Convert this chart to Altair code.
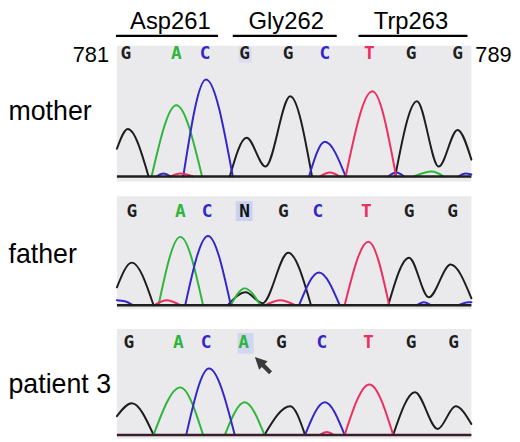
import altair as alt
import pandas as pd

# ---------------- data ----------------
X_MAX = 358  # scan positions shown

# codon header
CODONS = ["Asp261", "Gly262", "Trp263"]
CODON_LABEL_X = [54, 171, 297]
CODON_RULE_START = [-1, 117, 244]
CODON_RULE_END = [102, 222, 354]
NUM_START, NUM_START_X = "781", -8
NUM_END, NUM_END_X = "789", 362

# trace segments: (scan position, signal) per base
MOTHER_G = [[(0, 28), (11, 48), (32, 0)],
            [(114, 0), (131, 39), (150, 10), (175, 81), (197, 0)],
            [(281, 0), (303, 76), (325, 10), (344, 47), (358, 17)]]
MOTHER_A = [[(35, 0), (60, 72), (86, 0)], [(300, 0), (318, 5), (330, 0)]]
MOTHER_C = [[(40, 0), (47, 3), (54, 0)], [(67, 0), (90, 98), (117, 0)],
            [(194, 0), (210, 35), (231, 0)], [(274, 0), (282, 4), (290, 0)],
            [(345, 0), (352, 3), (358, 2)]]
MOTHER_T = [[(54, 0), (64, 3), (77, 0)], [(205, 0), (215, 4), (225, 0)],
            [(231, 0), (258, 86), (282, 0)]]

FATHER_G = [[(0, 18), (15, 43), (37, 0)],
            [(112, 0), (130, 13), (147, 2), (173, 53), (196, 0)],
            [(274, 0), (295, 48), (315, 8), (337, 41), (358, 7)]]
FATHER_A = [[(42, 0), (64, 69), (87, 0)], [(115, 0), (129, 17), (145, 0)]]
FATHER_C = [[(0, 5), (8, 4), (16, 0)], [(69, 0), (92, 70), (115, 0)],
            [(184, 0), (204, 33), (225, 0)], [(303, 0), (310, 3), (317, 0)],
            [(345, 0), (355, 3), (358, 3)]]
FATHER_T = [[(38, 0), (50, 5), (64, 0)], [(150, 0), (165, 5), (180, 0)],
            [(230, 0), (254, 64), (275, 0)]]

PATIENT_G = [[(0, 19), (15, 32), (37, 0)],
             [(149, 0), (175, 29), (190, 0)],
             [(279, 0), (301, 43), (324, 6), (342, 29), (358, 11)]]
PATIENT_A = [[(37, 0), (64, 48), (87, 0)], [(109, 0), (129, 33), (149, 0)]]
PATIENT_C = [[(70, 0), (93, 67), (119, 0)], [(190, 0), (210, 33), (230, 0)]]
PATIENT_T = [[(205, 0), (212, 3), (219, 0)], [(230, 0), (255, 51), (279, 0)]]

# base calls
MOTHER_SEQ = list("GACGGCTGG")
MOTHER_POS = [9, 60, 89, 129, 173, 210, 255, 297, 344]
FATHER_SEQ = list("GACNGCTGG")
FATHER_POS = [15, 64, 91, 129, 168, 203, 252, 295, 339]
PATIENT_SEQ = list("GACAGCTGG")
PATIENT_POS = [12, 62, 90, 128, 166, 207, 254, 297, 340]

# highlighted calls (x0, x1, y0, y1)
MOTHER_HL = (123, 136, 115, 131)
FATHER_HL = (120, 137, 85, 105)
PATIENT_HL = (122, 138, 82, 103)

# signal window shown on each panel's grey background (bottom, top)
MOTHER_WIN = (-5, 132)
FATHER_WIN = (-4, 110)
PATIENT_WIN = (-4, 107)

ARROW_X = [148]
ARROW_Y = [70]

# ---------------- styling ----------------
COLORS = {"A": "#2eb53c", "C": "#3427c8", "G": "#1e1e1e", "T": "#ec2f5f", "N": "#111111"}
color_scale = alt.Scale(domain=list(COLORS.keys()), range=list(COLORS.values()))
BG = "#eaeaec"
LABEL_FONT = "Liberation Sans"
ARROW_PATH = "M-1,-1L0.485,-0.505L0.17,-0.19L1,0.65L0.65,1L-0.19,0.17L-0.505,0.485Z"
xs = alt.Scale(domain=[0, X_MAX], nice=False, zero=False)


def traces_df(traces):
    rows = []
    for base, segs in traces.items():
        for si, seg in enumerate(segs):
            for i, (x, y) in enumerate(seg):
                rows.append(dict(base=base, seg=f"{base}{si}", i=i, x=x, y=y))
    return pd.DataFrame(rows)


def panel(label, title_y, traces, seq, pos, letter_y, win, gap, hl, hl_opacity,
          baseline_color, extras_fn=None):
    # gap: white space (in signal units = px) below the grey background
    ydom = [win[0] - gap, win[1]]
    height = ydom[1] - ydom[0]
    ys = alt.Scale(domain=ydom, nice=False, zero=False)
    yaxis = alt.Axis(title=label, titleAngle=0, titleAlign="left",
                     titleBaseline="alphabetic", titleX=-110, titleY=title_y,
                     titleFont=LABEL_FONT, titleFontSize=27,
                     titleFontWeight="normal", titleColor="black",
                     labels=False, ticks=False, domain=False, grid=False)

    def X(f="x"):
        return alt.X(f"{f}:Q", scale=xs, axis=None)

    Y = alt.Y("y:Q", scale=ys, axis=yaxis)

    bg = alt.Chart(pd.DataFrame({"x": [0], "x2": [X_MAX], "y": [win[0]], "y2": [win[1]]})).mark_rect(
        color=BG).encode(x=X(), x2="x2:Q", y=Y, y2="y2:Q")
    hl_layer = alt.Chart(pd.DataFrame({"x": [hl[0]], "x2": [hl[1]],
                                       "y": [hl[2]], "y2": [hl[3]]})).mark_rect(
        color="#c9d2f0", opacity=hl_opacity).encode(x=X(), x2="x2:Q", y=Y, y2="y2:Q")
    line = alt.Chart(traces_df(traces)).mark_line(
        interpolate="monotone", strokeWidth=2, strokeJoin="round", strokeCap="round"
    ).encode(x=X(), y=Y,
             color=alt.Color("base:N", scale=color_scale, legend=None),
             detail="seg:N", order="i:Q")
    base_rule = alt.Chart(pd.DataFrame({"x": [0], "x2": [X_MAX], "y": [0]})).mark_rule(
        strokeWidth=2.5, color=baseline_color).encode(x=X(), x2="x2:Q", y=Y)
    letters = alt.Chart(pd.DataFrame({"x": pos, "y": [letter_y] * len(seq),
                                      "base": seq})).mark_text(
        font="DejaVu Sans Mono", fontWeight="bold", fontSize=18, baseline="middle"
    ).encode(x=X(), y=Y, text="base:N",
             color=alt.Color("base:N", scale=color_scale, legend=None))
    layers = [bg, hl_layer, line, base_rule, letters]
    if extras_fn is not None:
        layers += extras_fn(X, Y)
    return alt.layer(*layers).properties(width=X_MAX, height=height)


def mother_extras(X, Y):
    a = alt.Chart(pd.DataFrame({"x": [NUM_START_X], "y": [122.5], "t": [NUM_START]})).mark_text(
        font=LABEL_FONT, fontSize=22, align="right", baseline="middle", color="black"
    ).encode(x=X(), y=Y, text="t:N")
    b = alt.Chart(pd.DataFrame({"x": [NUM_END_X], "y": [122.5], "t": [NUM_END]})).mark_text(
        font=LABEL_FONT, fontSize=22, align="left", baseline="middle", color="black"
    ).encode(x=X(), y=Y, text="t:N")
    return [a, b]


def patient_extras(X, Y):
    arrow = alt.Chart(pd.DataFrame({"x": ARROW_X, "y": ARROW_Y})).mark_point(
        shape=ARROW_PATH, filled=True, size=300, color="#3a3a3a", opacity=1,
        strokeWidth=0).encode(x=X(), y=Y)
    return [arrow]


header_df = pd.DataFrame({"codon": CODONS, "lx": CODON_LABEL_X,
                          "x0": CODON_RULE_START, "x1": CODON_RULE_END})
header_txt = alt.Chart(header_df).mark_text(
    font=LABEL_FONT, fontSize=24, baseline="alphabetic", align="center", color="black"
).encode(x=alt.X("lx:Q", scale=xs, axis=None), y=alt.value(18), text="codon:N")
header_rule = alt.Chart(header_df).mark_rule(strokeWidth=2.5, color="black").encode(
    x=alt.X("x0:Q", scale=xs, axis=None), x2="x1:Q", y=alt.value(25))
header = alt.layer(header_txt, header_rule).properties(width=X_MAX, height=35)

p1 = panel("mother", 74, {"G": MOTHER_G, "A": MOTHER_A, "C": MOTHER_C, "T": MOTHER_T},
           MOTHER_SEQ, MOTHER_POS, 123.5, MOTHER_WIN, 15, MOTHER_HL, 0.5, "#1e1e1e",
           mother_extras)
p2 = panel("father", 67, {"G": FATHER_G, "A": FATHER_A, "C": FATHER_C, "T": FATHER_T},
           FATHER_SEQ, FATHER_POS, 94, FATHER_WIN, 20, FATHER_HL, 1.0, "#1e1e1e")
p3 = panel("patient 3", 64, {"G": PATIENT_G, "A": PATIENT_A, "C": PATIENT_C, "T": PATIENT_T},
           PATIENT_SEQ, PATIENT_POS, 92.5, PATIENT_WIN, 0, PATIENT_HL, 0.8, "#3a1f2a",
           patient_extras)

chart = alt.vconcat(header, p1, p2, p3, spacing=0, bounds="flush").properties(
    padding=0).configure_view(strokeWidth=0)

chart.save("out.html", embed_options={"renderer": "svg", "actions": False})
